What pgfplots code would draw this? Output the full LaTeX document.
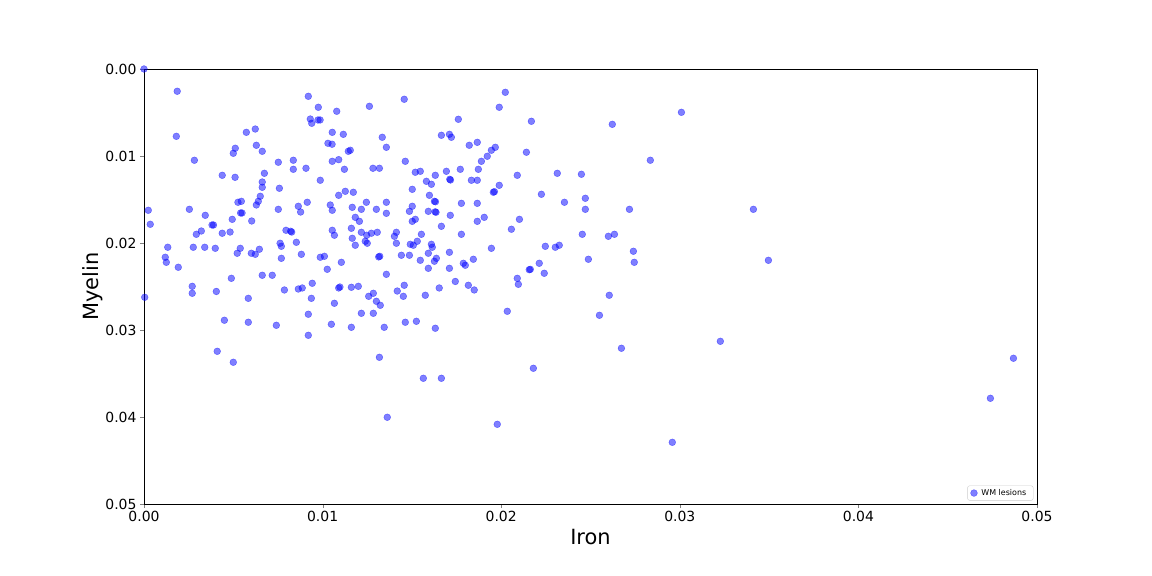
\documentclass[border=0pt]{standalone}
\usepackage{fontspec}
\setmainfont{DejaVu Sans}
\usepackage{pgfplots}
\pgfplotsset{compat=1.18}

% iron vs myelin per lesion
\pgfplotstableread{
x y
0.00000 0.00000
0.00186 0.00256
0.00181 0.00774
0.00282 0.01049
0.00024 0.01624
0.00035 0.01785
0.00254 0.01613
0.00343 0.01682
0.00381 0.01793
0.00389 0.01793
0.00321 0.01862
0.00293 0.01900
0.00438 0.01222
0.00438 0.01888
0.00482 0.01874
0.00494 0.01728
0.00510 0.01245
0.00500 0.00969
0.00511 0.00911
0.00573 0.00728
0.00623 0.00690
0.00629 0.00877
0.00662 0.00946
0.00674 0.01199
0.00662 0.01299
0.00662 0.01360
0.00651 0.01463
0.00640 0.01521
0.00629 0.01563
0.00526 0.01532
0.00545 0.01521
0.00541 0.01655
0.00549 0.01655
0.00603 0.01747
0.00752 0.01072
0.00758 0.01371
0.00752 0.01613
0.00836 0.01049
0.00836 0.01153
0.00907 0.01141
0.00987 0.01279
0.00920 0.00314
0.00976 0.00440
0.00931 0.00575
0.00939 0.00624
0.00974 0.00586
0.00986 0.00586
0.01079 0.00486
0.01054 0.00728
0.01030 0.00854
0.01053 0.00865
0.01054 0.01061
0.01090 0.01042
0.01090 0.01452
0.00864 0.01578
0.00877 0.01644
0.00914 0.01532
0.01043 0.01563
0.01054 0.01624
0.00795 0.01854
0.00821 0.01865
0.00827 0.01874
0.00762 0.02003
0.00769 0.02038
0.00853 0.01992
0.00769 0.02176
0.00881 0.02130
0.00987 0.02164
0.01010 0.02153
0.01054 0.01854
0.01066 0.01911
0.01026 0.02302
0.00133 0.02049
0.00276 0.02049
0.00340 0.02049
0.00399 0.02061
0.00539 0.02061
0.00522 0.02118
0.00646 0.02072
0.00601 0.02118
0.00623 0.02130
0.00119 0.02164
0.00125 0.02222
0.00192 0.02279
0.00489 0.02406
0.00662 0.02371
0.00718 0.02371
0.00270 0.02498
0.00405 0.02557
0.00786 0.02540
0.00864 0.02529
0.00886 0.02517
0.00942 0.02463
0.01090 0.02517
0.01097 0.02506
0.00004 0.02624
0.00270 0.02578
0.00584 0.02636
0.00937 0.02636
0.01066 0.02693
0.00450 0.02888
0.00584 0.02911
0.00741 0.02946
0.00920 0.02819
0.01049 0.02934
0.00920 0.03061
0.00410 0.03245
0.00500 0.03371
0.01262 0.00429
0.01457 0.00348
0.02023 0.00268
0.01989 0.00440
0.01760 0.00578
0.01116 0.00751
0.01334 0.00785
0.01357 0.00900
0.01144 0.00946
0.01155 0.00934
0.01122 0.01153
0.01282 0.01141
0.01318 0.01141
0.01463 0.01061
0.01665 0.00762
0.01710 0.00751
0.01721 0.00785
0.01821 0.00877
0.01866 0.00843
0.01945 0.00934
0.01967 0.00900
0.01922 0.01003
0.01889 0.01061
0.02141 0.00957
0.02169 0.00601
0.01519 0.01187
0.01547 0.01176
0.01631 0.01222
0.01693 0.01176
0.01712 0.01268
0.01716 0.01276
0.01771 0.01153
0.01872 0.01153
0.01833 0.01279
0.01866 0.01279
0.02090 0.01222
0.01989 0.01337
0.01956 0.01417
0.01962 0.01410
0.01581 0.01291
0.01609 0.01325
0.01502 0.01383
0.01598 0.01452
0.01626 0.01521
0.01632 0.01526
0.01635 0.01647
0.01630 0.01642
0.01592 0.01636
0.01715 0.01682
0.01777 0.01544
0.01866 0.01544
0.01866 0.01751
0.01905 0.01705
0.02102 0.01728
0.02057 0.01842
0.01127 0.01406
0.01172 0.01417
0.01166 0.01590
0.01217 0.01613
0.01245 0.01532
0.01301 0.01613
0.01357 0.01532
0.01357 0.01659
0.01183 0.01705
0.01206 0.01751
0.01161 0.01831
0.01217 0.01877
0.01166 0.01946
0.01183 0.02026
0.01247 0.01911
0.01273 0.01888
0.01306 0.01877
0.01239 0.01980
0.01250 0.02003
0.01413 0.01877
0.01402 0.01923
0.01413 0.02003
0.01486 0.01636
0.01502 0.01578
0.01519 0.01728
0.01502 0.01751
0.01553 0.01900
0.01530 0.01980
0.01491 0.02015
0.01508 0.02026
0.01609 0.02015
0.01614 0.02049
0.01665 0.01808
0.01777 0.01900
0.01945 0.02061
0.01320 0.02153
0.01314 0.02160
0.01441 0.02141
0.01486 0.02141
0.01547 0.02199
0.01592 0.02118
0.01637 0.02176
0.01626 0.02210
0.01592 0.02291
0.01710 0.02107
0.01710 0.02291
0.01788 0.02233
0.01799 0.02256
0.01844 0.02187
0.01105 0.02222
0.01357 0.02360
0.01743 0.02442
0.01816 0.02486
0.01849 0.02540
0.02090 0.02406
0.02096 0.02475
0.02157 0.02307
0.02163 0.02303
0.01161 0.02509
0.01200 0.02498
0.01457 0.02486
0.01418 0.02552
0.01653 0.02517
0.01258 0.02613
0.01284 0.02578
0.01301 0.02670
0.01323 0.02716
0.01217 0.02808
0.01284 0.02808
0.01161 0.02969
0.01345 0.02969
0.01452 0.02613
0.01463 0.02911
0.01525 0.02900
0.01575 0.02601
0.01631 0.02980
0.02034 0.02785
0.01318 0.03314
0.01564 0.03555
0.01665 0.03555
0.01362 0.04003
0.01978 0.04084
0.02622 0.00636
0.03009 0.00498
0.02835 0.01049
0.02314 0.01199
0.02449 0.01210
0.02225 0.01440
0.02354 0.01532
0.02471 0.01486
0.02471 0.01613
0.02718 0.01613
0.02454 0.01900
0.02600 0.01923
0.02634 0.01900
0.02247 0.02038
0.02303 0.02049
0.02325 0.02026
0.02740 0.02095
0.02745 0.02222
0.02488 0.02187
0.02213 0.02233
0.02241 0.02348
0.02605 0.02601
0.02550 0.02831
0.02673 0.03210
0.02180 0.03440
0.02958 0.04291
0.03227 0.03130
0.03412 0.01613
0.03496 0.02199
0.04868 0.03325
0.04739 0.03785
}\lesions

\begin{document}
\begin{tikzpicture}[x=1bp,y=1bp]
\path (0,0) rectangle (1152,576);
\begin{axis}[
    at={(144bp,72bp)}, anchor=south west,
    scale only axis, width=893bp, height=435bp,
    xmin=0, xmax=0.05, ymin=0, ymax=0.05,
    y dir=reverse,
    xtick={0,0.01,0.02,0.03,0.04,0.05},
    ytick={0,0.01,0.02,0.03,0.04,0.05},
    scaled ticks=false,
    /pgf/number format/fixed,
    /pgf/number format/fixed zerofill,
    /pgf/number format/precision=2,
    /pgf/number format/assume math mode=true,
    tick label style={font=\fontsize{14}{16}\selectfont},
    xlabel={Iron}, ylabel={Myelin},
    label style={font=\fontsize{21}{24}\selectfont},
    ylabel style={yshift=-4bp},
    tick align=outside, major tick length=4bp,
    xtick pos=bottom, ytick pos=left,
    axis line style={line width=0.8bp},
    legend style={at={(0.996,0.008)}, anchor=south east,
        font=\fontsize{8}{9}\selectfont, draw=black!20,
        rounded corners=2bp, inner xsep=3bp, inner ysep=1.5bp,
        nodes={inner xsep=4bp}},
    legend cell align=left,
]
\addplot[only marks, mark=*, mark size=3.4bp,
    mark options={draw=blue, fill=blue, opacity=0.5}] table[x=x, y=y] {\lesions};
\addlegendentry{WM lesions}
\end{axis}
\end{tikzpicture}
\end{document}
